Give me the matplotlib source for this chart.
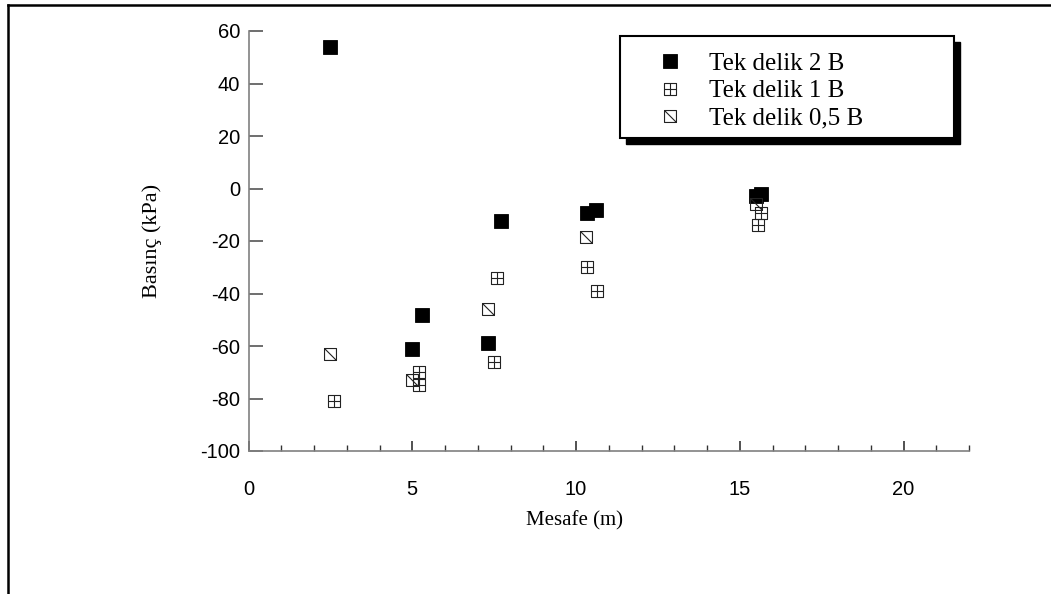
#!/usr/bin/env python3
"""Basinc - mesafe scatter (Tek delik 2 B / 1 B / 0,5 B)"""

import matplotlib
matplotlib.use('Agg')
import matplotlib.pyplot as plt
from matplotlib.path import Path
from matplotlib.patches import Rectangle
from matplotlib.lines import Line2D

plt.rcParams['axes.unicode_minus'] = False

# data
dist_2b = [2.5, 5.0, 5.3, 7.3, 7.7, 10.35, 10.6, 15.5, 15.65]
pres_2b = [54, -61, -48, -59, -12.5, -9.5, -8, -2.8, -2]

dist_1b = [2.6, 5.2, 5.2, 7.5, 7.6, 10.35, 10.65, 15.65, 15.55]
pres_1b = [-81, -70, -75, -66, -34, -30, -39, -9.5, -14]

dist_05b = [2.5, 5.0, 7.3, 10.3, 15.5]
pres_05b = [-63, -73, -46, -18.5, -6]

labels = ['Tek delik 2 B', 'Tek delik 1 B', 'Tek delik 0,5 B']
x_ticks = [0, 5, 10, 15, 20]
y_ticks = [-100, -80, -60, -40, -20, 0, 20, 40, 60]

SERIF = ['Liberation Serif', 'DejaVu Serif']
SANS = ['Liberation Sans', 'DejaVu Sans']


def square_path(extra):
    """unit square marker with extra inner strokes"""
    verts = [(-1, -1), (1, -1), (1, 1), (-1, 1), (-1, -1)]
    codes = [Path.MOVETO, Path.LINETO, Path.LINETO, Path.LINETO, Path.CLOSEPOLY]
    for a, b in extra:
        verts += [a, b]
        codes += [Path.MOVETO, Path.LINETO]
    return Path(verts, codes)


grid_marker = square_path([((0, -1), (0, 1)), ((-1, 0), (1, 0))])
diag_marker = square_path([((-1, 1), (1, -1))])


def create_plot():
    fig = plt.figure(figsize=(10.51, 5.94), dpi=100)
    ax = fig.add_axes([248.5 / 1051, 1 - 451 / 594, 720.5 / 1051, 420 / 594])

    ax.plot(dist_2b, pres_2b, ls='none', marker='s', ms=9.5, mfc='black',
            mec='black', mew=0.6, label=labels[0], clip_on=False)
    ax.plot(dist_1b, pres_1b, ls='none', marker=grid_marker, ms=8.6, mfc='none',
            mec='#222222', mew=0.8, label=labels[1], clip_on=False)
    ax.plot(dist_05b, pres_05b, ls='none', marker=diag_marker, ms=8.6, mfc='none',
            mec='#222222', mew=0.8, label=labels[2], clip_on=False)

    ax.set_xlim(0, 22)
    ax.set_ylim(-100, 60)
    ax.set_xticks(x_ticks)
    ax.set_xticks(range(0, 23), minor=True)
    ax.set_yticks(y_ticks)

    for side in ['top', 'right']:
        ax.spines[side].set_visible(False)
    for side in ['left', 'bottom']:
        ax.spines[side].set_color('#808080')
        ax.spines[side].set_linewidth(1.2)

    ax.tick_params(axis='y', direction='in', length=10, width=1.2, color='#555555',
                   pad=6, labelsize=14.5)
    ax.tick_params(axis='x', which='major', direction='in', length=7.5, width=1.2,
                   color='#333333', pad=21, labelsize=14.5)
    ax.tick_params(axis='x', which='minor', direction='in', length=4, width=1.0,
                   color='#333333')
    for lab in ax.get_xticklabels() + ax.get_yticklabels():
        lab.set_family(SANS)

    ax.set_xlabel('Mesafe (m)', family=SERIF, fontsize=15)
    ax.xaxis.set_label_coords(0.453, -0.167)
    ax.xaxis.label.set_va('center')
    ax.set_ylabel('Basınç (kPa)', family=SERIF, fontsize=16)
    ax.yaxis.set_label_coords(-0.134, 0.5)
    ax.yaxis.label.set_va('center')

    # legend box with black drop shadow
    bx, by, bw, bh = 0.516, 0.745, 0.463, 0.243
    dx, dy = 6 / 720.5, 6 / 420
    ax.add_patch(Rectangle((bx + dx, by - dy), bw, bh, transform=ax.transAxes,
                           facecolor='black', edgecolor='black', zorder=5))
    ax.add_patch(Rectangle((bx, by), bw, bh, transform=ax.transAxes,
                           facecolor='white', edgecolor='black', lw=1.5, zorder=6))
    leg = ax.legend(loc='center left', bbox_to_anchor=(0.5587, 0.857), frameon=False,
                    prop={'family': SERIF, 'size': 18}, borderpad=0, handlelength=1.5,
                    handletextpad=0.8, labelspacing=0.2, borderaxespad=0)
    leg.set_zorder(7)

    # frame lines of the cropped page (left and top only)
    fig.add_artist(Line2D([7.5 / 1051, 7.5 / 1051], [0, 1 - 5 / 594], color='black',
                          lw=1.8, transform=fig.transFigure))
    fig.add_artist(Line2D([7.5 / 1051, 1], [1 - 5 / 594, 1 - 5 / 594], color='black',
                          lw=1.8, transform=fig.transFigure))

    fig.savefig('out.png', dpi=100, facecolor='white')
    plt.close(fig)


if __name__ == "__main__":
    create_plot()
